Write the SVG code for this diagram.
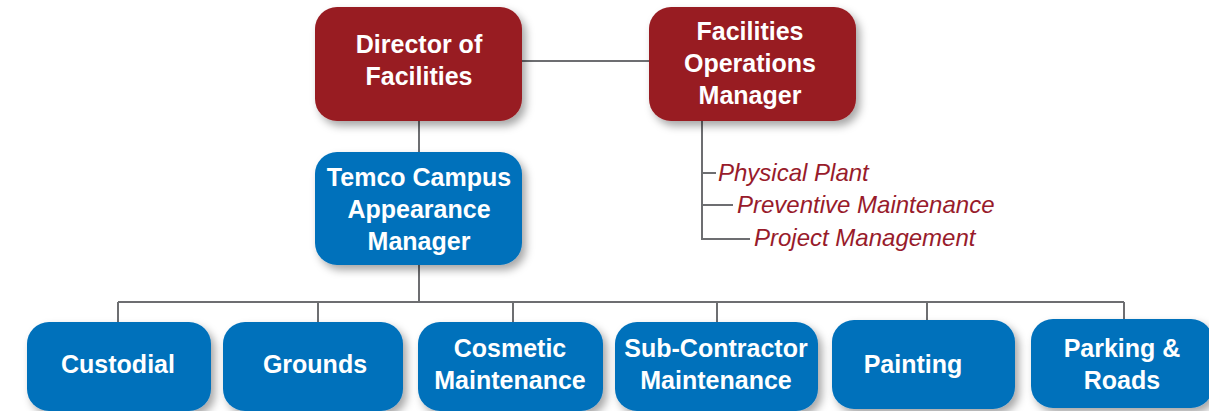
<svg xmlns="http://www.w3.org/2000/svg" width="1209" height="411" viewBox="0 0 1209 411">
<style>
.red{fill:#981b21}
.blue{fill:#0271bb}
.box{filter:url(#sh)}
.t{font-family:"Liberation Sans",Arial,sans-serif;font-weight:bold;font-size:25px;fill:#fff;text-anchor:middle}
.it{font-family:"Liberation Sans",Arial,sans-serif;font-style:italic;font-size:24px;fill:#981b2b}
.ln{stroke:#6d6e71;stroke-width:2;fill:none}
</style>
<defs>
<filter id="sh" x="-20%" y="-20%" width="150%" height="150%">
<feDropShadow dx="4" dy="5" stdDeviation="4" flood-color="#000" flood-opacity="0.35"/>
</filter>
</defs>
<rect width="1209" height="411" fill="#fff"/>
<g id="connectors">
<path class="ln" d="M522 61H649"/>
<path class="ln" d="M419 121V152"/>
<path class="ln" d="M419 265V302"/>
<path class="ln" d="M118 302H1124"/>
<path class="ln" d="M118 302V322M318 302V322M513 302V322M717 302V322M927 302V320M1124 302V319"/>
<path class="ln" d="M702 121V239H750M702 173H716M702 205H733"/>
</g>
<g id="director">
<rect class="red box" x="315" y="7" width="207" height="114" rx="22"/>
<text class="t" x="419" y="53">Director of</text>
<text class="t" x="419" y="85">Facilities</text>
</g>
<g id="fom">
<rect class="red box" x="649" y="7" width="207" height="114" rx="22"/>
<text class="t" x="750" y="40">Facilities</text>
<text class="t" x="750" y="72">Operations</text>
<text class="t" x="750" y="104">Manager</text>
</g>
<g id="fom-items">
<text class="it" x="718" y="181">Physical Plant</text>
<text class="it" x="737" y="213">Preventive Maintenance</text>
<text class="it" x="754" y="246">Project Management</text>
</g>
<g id="temco">
<rect class="blue box" x="315" y="152" width="207" height="113" rx="22"/>
<text class="t" x="419" y="186">Temco Campus</text>
<text class="t" x="419" y="218">Appearance</text>
<text class="t" x="419" y="250">Manager</text>
</g>
<g id="custodial">
<rect class="blue box" x="27" y="322" width="184" height="89" rx="22"/>
<text class="t" x="118" y="373">Custodial</text>
</g>
<g id="grounds">
<rect class="blue box" x="223" y="322" width="180" height="89" rx="22"/>
<text class="t" x="315" y="373">Grounds</text>
</g>
<g id="cosmetic">
<rect class="blue box" x="418" y="322" width="185" height="89" rx="22"/>
<text class="t" x="510" y="357">Cosmetic</text>
<text class="t" x="510" y="389">Maintenance</text>
</g>
<g id="subcontractor">
<rect class="blue box" x="615" y="322" width="203" height="89" rx="22"/>
<text class="t" x="716" y="357">Sub-Contractor</text>
<text class="t" x="716" y="389">Maintenance</text>
</g>
<g id="painting">
<rect class="blue box" x="832" y="320" width="183" height="89" rx="22"/>
<text class="t" x="913" y="373">Painting</text>
</g>
<g id="parking">
<rect class="blue box" x="1031" y="319" width="182" height="89" rx="22"/>
<text class="t" x="1122" y="357">Parking &amp;</text>
<text class="t" x="1122" y="389">Roads</text>
</g>
</svg>
